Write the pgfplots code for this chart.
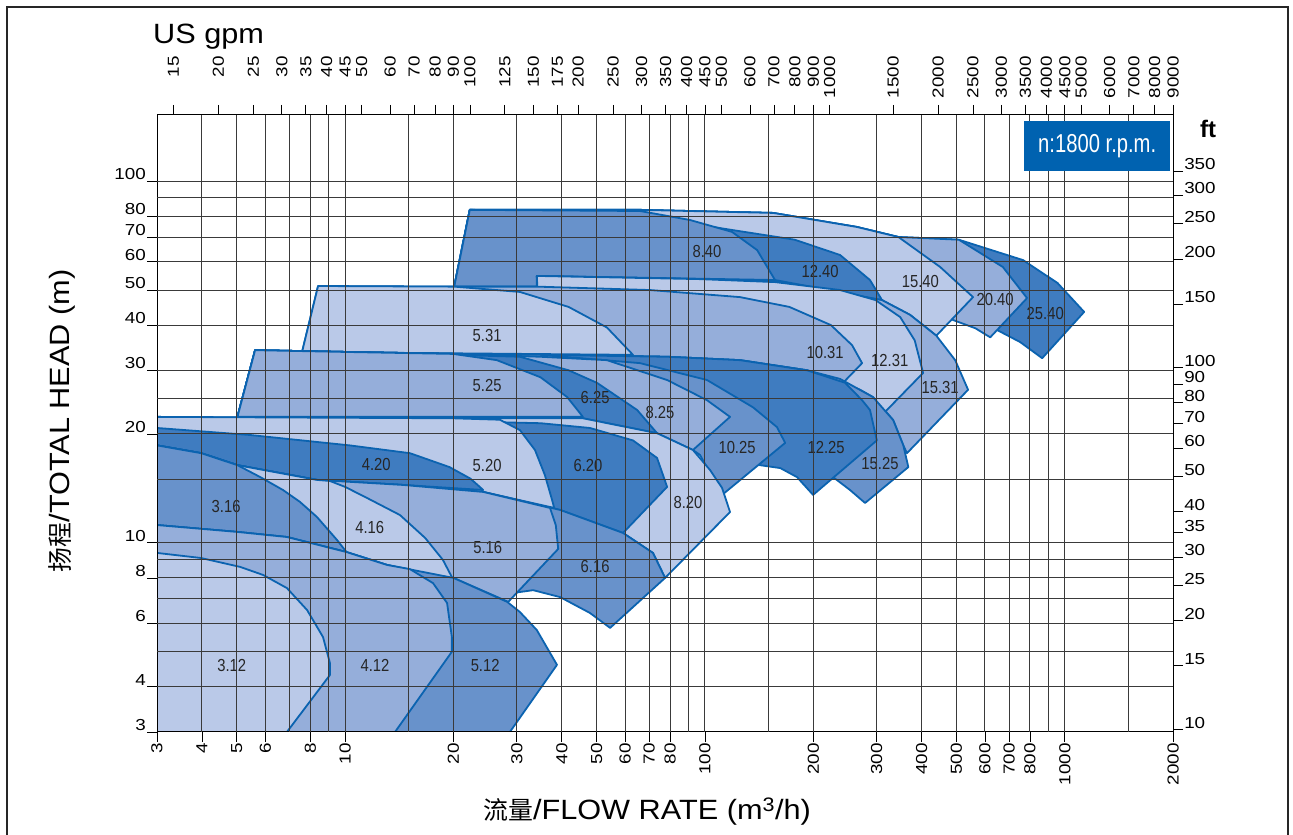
\documentclass[border=0pt]{standalone}
\usepackage{pgfplots}
\pgfplotsset{compat=1.18}
\usepackage{fontspec}
\setmainfont{Liberation Sans}
\newfontfamily\tickfont[FakeStretch=1.18]{Liberation Sans}
\newfontfamily\widefont[FakeStretch=1.1]{Liberation Sans}
\newfontfamily\condfont[FakeStretch=0.85]{Liberation Sans}
\newfontfamily\rpmfont[FakeStretch=0.78]{Liberation Sans}
\newfontfamily\cjk{Noto Sans CJK SC}
\definecolor{cL}{HTML}{BAC9E8}
\definecolor{cM}{HTML}{95AEDA}
\definecolor{cD}{HTML}{6892CB}
\definecolor{cX}{HTML}{3F7CC0}
\definecolor{edge}{HTML}{0B63B0}
\definecolor{rpmblue}{HTML}{0062B0}
\definecolor{gridc}{HTML}{3A3A3A}
\tikzset{
  pump/.style={draw=edge, line width=1.8bp, line join=round, fill=#1},
  lab/.style={font=\condfont\fontsize{17.5}{17.5}\selectfont, text=black!85, inner sep=0pt},
}
\begin{document}
\begin{tikzpicture}[x=1bp,y=1bp]
\path[use as bounding box] (0,0) rectangle (1293,835);
\begin{axis}[
  at={(157bp,103bp)}, anchor=south west,
  scale only axis, width=1016bp, height=617bp,
  xmode=log, ymode=log,
  xmin=3, xmax=2000, ymin=3, ymax=152.4,
  axis on top, no markers,
  xminorticks=false, yminorticks=false,
  axis line style={black, line width=1bp},
  tick style={black, line width=0.8bp},
  tick align=outside, major tick length=10bp,
  xtick pos=left, ytick pos=left,
  xtick={3,4,5,6,8,10,20,30,40,50,60,70,80,100,200,300,400,500,600,700,800,1000,2000},
  xticklabels={3,4,5,6,8,10,20,30,40,50,60,70,80,100,200,300,400,500,600,700,800,1000,2000},
  ytick={3,4,6,8,10,20,30,40,50,60,70,80,100},
  yticklabels={3,4,6,8,10,20,30,40,50,60,70,80,100},
  xticklabel style={rotate=90, anchor=east, font=\tickfont\fontsize{16}{16}\selectfont, inner sep=1bp},
  yticklabel style={anchor=south east, font=\tickfont\fontsize{16}{16}\selectfont, inner sep=1bp},
  extra x ticks={4,5,6,7,8,9,10,15,20,30,40,50,60,70,80,90,100,150,200,300,400,500,600,700,800,900,1000,1500},
  extra x tick labels={},
  extra x tick style={grid=major, tick style={draw=none}},
  extra y ticks={4,5,6,7,8,9,10,15,20,25,30,40,50,60,70,80,90,100},
  extra y tick labels={},
  extra y tick style={grid=major, tick style={draw=none}},
  major grid style={gridc, line width=1bp},
]
% ---- 40 family
\addplot[pump=cX] coordinates {(22.2,83.3)(66,83.3)(154.6,81.7)(264.6,74.7)(344.8,70.1)(507.6,68.9)(765.9,60.5)(954.5,52.3)(1132,43.5)(865.3,32.4)(751.8,35.9)(653.9,38.6)(546.3,41.8)(450.5,45.4)(310.5,49.1)(156.6,53.3)(34.1,54.7)(20.1,51.1)} -- cycle;
\addplot[pump=cM] coordinates {(22.2,83.3)(66,83.3)(154.6,81.7)(264.6,74.7)(344.8,70.1)(507.6,68.9)(672.8,57.9)(785.6,47.5)(620.6,37.0)(564.6,39.2)(489.7,41.3)(439.6,43.5)(310.5,49.1)(156.6,53.3)(34.1,54.7)(20.1,51.1)} -- cycle;
\addplot[pump=cL] coordinates {(22.2,83.3)(66,83.3)(154.6,81.7)(264.6,74.7)(344.8,70.1)(450.5,57.9)(556,47.8)(439.6,37.4)(371.5,42.7)(310.5,46.9)(156.6,53.3)(34.1,54.7)(20.1,51.1)} -- cycle;
\addplot[pump=cX] coordinates {(22.2,83.3)(66,82.2)(96.9,75.7)(118.9,73.3)(177.6,68.9)(237.4,62.5)(287.5,53.3)(310.5,46.9)(156.6,53.3)(34.1,54.7)(20.1,51.1)} -- cycle;
\addplot[pump=cD] coordinates {(22.2,83.3)(66,82.7)(90.9,78.1)(118.9,72.4)(139.6,64.5)(156.6,53.3)(34.1,54.7)(34.1,51.1)(20.1,51.1)} -- cycle;
% ---- 31 family
\addplot[pump=cM] coordinates {(34.1,54.7)(96.9,53.6)(156.6,52.9)(310.5,46.9)(371.5,42.7)(439.6,37.4)(495.9,32.0)(538.6,26.5)(364.3,17.7)(355.9,18.6)(333.4,21.86)(293,25.3)(242,27.7)(192.2,30.0)(125.2,32.0)(78.5,32.7)(34.9,33.1)} -- cycle;
\addplot[pump=cL] coordinates {(34.1,54.7)(96.9,53.6)(156.6,52.6)(237.4,50.0)(298,46.9)(348.8,42.1)(382.8,36.3)(403.9,29.5)(316.4,23.0)(293,25.3)(269.8,26.5)(242,27.7)(192.2,30.0)(125.2,32.0)(78.5,32.7)(34.9,33.1)} -- cycle;
\addplot[pump=cM] coordinates {(8.41,51.3)(20.1,51.1)(34.1,51.1)(70.4,50.0)(125.2,47.8)(171.7,44.9)(223.9,40.0)(256.4,35.2)(273.3,31.4)(242,27.7)(192.2,30.0)(125.2,32.0)(78.5,32.7)(34.9,33.1)(19.96,33.3)(7.59,33.7)} -- cycle;
\addplot[pump=cL] coordinates {(8.41,51.3)(20.1,51.1)(30.6,49.4)(41.8,44.9)(53.4,39.4)(63.1,33.1)(7.59,33.7)} -- cycle;
% ---- 25 family
\addplot[pump=cD] coordinates {(5.62,34.1)(10.3,33.7)(19.96,33.3)(34.9,33.1)(78.5,32.7)(125.2,32.0)(192.2,30.0)(237.4,28.4)(293,25.3)(333.4,21.86)(355.9,18.6)(367.5,16.2)(278.6,12.89)(253,14.0)(230,15.05)(199.8,16.1)(167.1,17.17)(125.2,18.3)(92.6,19.2)(73.6,20.1)(45.8,22.1)(5.02,22.3)} -- cycle;
\addplot[pump=cX] coordinates {(5.62,34.1)(10.3,33.7)(19.96,33.3)(34.9,33.1)(78.5,32.7)(125.2,32.0)(192.2,30.0)(245.2,27.7)(273.3,24.8)(287.5,23.3)(300.4,19.2)(199.8,13.57)(180.2,15.2)(161.9,16.1)(142.2,16.4)(125.2,16.96)(92.6,18.06)(73.6,20.1)(45.8,22.1)(5.02,22.3)} -- cycle;
\addplot[pump=cD] coordinates {(5.62,34.1)(10.3,33.7)(19.96,33.3)(34.9,33.1)(66,31.4)(101.3,28.2)(136,23.7)(158.5,20.9)(167.1,18.9)(111.6,13.57)(96.9,17.5)(92.6,18.06)(73.6,20.1)(45.8,22.1)(5.02,22.3)} -- cycle;
\addplot[pump=cM] coordinates {(5.62,34.1)(10.3,33.7)(19.96,33.3)(34.9,32.7)(53.4,32.0)(78.5,28.2)(101.3,24.8)(117.4,22.3)(92.6,18.06)(73.6,20.1)(45.8,22.1)(5.02,22.3)} -- cycle;
\addplot[pump=cX] coordinates {(5.62,34.1)(10.3,33.7)(19.96,33.1)(30.6,32.7)(41.8,30.0)(50.1,27.7)(64.8,23.3)(73.6,20.1)(45.8,22.1)(5.02,22.3)} -- cycle;
\addplot[pump=cM] coordinates {(5.62,34.1)(10.3,33.7)(19.96,33.3)(26.4,32.0)(34.9,28.7)(41.4,25.3)(45.8,22.3)(5.02,22.3)} -- cycle;
% ---- 20 family
\addplot[pump=cL] coordinates {(3,22.3)(20,22.1)(45.8,22.1)(73.6,20.1)(92.6,18.06)(103.3,15.9)(111.6,14.18)(117.4,12.17)(77.5,8.0)(71.7,9.38)(59.2,10.65)(39.6,12.33)(24.2,13.83)(14.48,14.46)(8.35,14.93)(5.02,16.4)(3.98,17.7)(3,18.6)} -- cycle;
\addplot[pump=cX] coordinates {(3,21.86)(20,21.7)(34.9,21.42)(47.9,20.78)(63.1,19.2)(73.6,17.17)(78.5,14.28)(59.2,10.65)(39.6,12.33)(24.2,13.83)(14.48,14.46)(8.35,14.93)(5.02,16.4)(3.98,17.7)(3,18.6)} -- cycle;
\addplot[pump=cL] coordinates {(3,22.3)(20,22.1)(26.9,21.9)(30.6,20.5)(33.7,18.06)(35.9,15.4)(37.6,13.14)(38.1,12.49)(24.2,13.83)(14.48,14.46)(8.35,14.93)(5.02,16.4)(3.98,17.7)(3,18.6)} -- cycle;
\addplot[pump=cX] coordinates {(3,20.78)(5.45,19.87)(10.3,18.6)(15.14,17.7)(19.5,16.2)(22.3,15.05)(24.2,14.0)(14.48,14.46)(8.35,14.93)(5.02,16.4)(3.98,17.7)(3,18.6)} -- cycle;
% ---- 16 family
\addplot[pump=cD] coordinates {(3,18.6)(3.98,17.7)(5.02,16.4)(8.35,14.93)(14.48,14.46)(24.2,13.83)(39.6,12.33)(59.2,10.65)(71.7,9.38)(77.5,8.0)(54.5,5.82)(47.9,6.4)(39.6,7.08)(33.3,7.4)(29.3,7.27)(28.2,6.87)(20,8.0)(10.09,9.43)(5.02,10.72)(3,11.2)} -- cycle;
\addplot[pump=cM] coordinates {(3,18.6)(3.98,17.7)(5.02,16.4)(8.35,14.93)(14.48,14.46)(24.2,13.83)(37.1,12.49)(38.5,11.2)(39.1,9.62)(28.4,6.87)(20,8.0)(10.09,9.43)(5.02,10.72)(3,11.2)} -- cycle;
\addplot[pump=cL] coordinates {(3,18.6)(3.98,17.7)(5.02,16.4)(8.35,14.93)(9.07,14.83)(10,14.28)(11.5,13.31)(14.2,11.94)(16.7,10.31)(18.7,8.97)(20,7.89)(13.07,8.69)(10.09,9.43)(5.02,10.72)(3,11.2)} -- cycle;
\addplot[pump=cD] coordinates {(3,18.6)(3.98,17.7)(5.02,16.4)(5.81,15.2)(6.72,14.0)(7.49,12.98)(8.35,11.79)(9.49,10.19)(10.09,9.43)(6.89,10.38)(5.02,10.72)(3,11.2)} -- cycle;
% ---- 12 family
\addplot[pump=cD] coordinates {(3,11.2)(5.02,10.72)(6.89,10.38)(10.09,9.43)(13.07,8.69)(20,8.0)(28.2,6.87)(30.6,6.44)(34.1,5.74)(38.8,4.6)(28.7,3)(3,3)} -- cycle;
\addplot[pump=cM] coordinates {(3,11.2)(5.02,10.72)(6.89,10.38)(10.09,9.43)(13.07,8.69)(15.14,8.46)(17.55,7.74)(19.2,6.82)(19.8,5.49)(19.8,5.0)(13.76,3)(3,3)} -- cycle;
\addplot[pump=cL] coordinates {(3,9.38)(3.98,9.08)(5.11,8.58)(5.92,8.15)(6.89,7.5)(7.84,6.52)(8.68,5.49)(9.07,4.66)(9.07,4.31)(6.89,3)(3,3)} -- cycle;
% ---- labels
\node[lab] at (axis cs:4.84,4.57) {3.12};
\node[lab] at (axis cs:12.1,4.57) {4.12};
\node[lab] at (axis cs:24.5,4.57) {5.12};
\node[lab] at (axis cs:4.67,12.6) {3.16};
\node[lab] at (axis cs:11.7,11.0) {4.16};
\node[lab] at (axis cs:24.9,9.68) {5.16};
\node[lab] at (axis cs:49.5,8.58) {6.16};
\node[lab] at (axis cs:12.2,16.5) {4.20};
\node[lab] at (axis cs:24.8,16.4) {5.20};
\node[lab] at (axis cs:47.3,16.4) {6.20};
\node[lab] at (axis cs:89.7,12.89) {8.20};
\node[lab] at (axis cs:24.8,27.3) {5.25};
\node[lab] at (axis cs:49.5,25.2) {6.25};
\node[lab] at (axis cs:75.0,23.0) {8.25};
\node[lab] at (axis cs:122.8,18.4) {10.25};
\node[lab] at (axis cs:217.1,18.4) {12.25};
\node[lab] at (axis cs:306.6,16.6) {15.25};
\node[lab] at (axis cs:24.8,37.4) {5.31};
\node[lab] at (axis cs:215.7,33.7) {10.31};
\node[lab] at (axis cs:326.2,32.0) {12.31};
\node[lab] at (axis cs:450.5,26.96) {15.31};
\node[lab] at (axis cs:101.3,64.1) {8.40};
\node[lab] at (axis cs:208.9,56.1) {12.40};
\node[lab] at (axis cs:397,52.9) {15.40};
\node[lab] at (axis cs:640.4,47.2) {20.40};
\node[lab] at (axis cs:882.6,43.2) {25.40};
\end{axis}
% right axis: feet
\begin{axis}[
  at={(157bp,103bp)}, anchor=south west,
  scale only axis, width=1016bp, height=617bp,
  xmode=log, ymode=log, xmin=3, xmax=2000, ymin=9.84252, ymax=500,
  axis x line=none, axis y line*=right,
  axis line style={black, line width=1bp},
  tick style={black, line width=0.8bp},
  yminorticks=false, tick align=outside, major tick length=10bp,
  ytick={10,15,20,25,30,35,40,50,60,70,80,90,100,150,200,250,300,350},
  yticklabels={10,15,20,25,30,35,40,50,60,70,80,90,100,150,200,250,300,350},
  yticklabel style={anchor=south west, font=\tickfont\fontsize{16}{16}\selectfont, inner sep=1bp},
]
\end{axis}
% top axis: US gpm
\begin{axis}[
  at={(157bp,103bp)}, anchor=south west,
  scale only axis, width=1016bp, height=617bp,
  xmode=log, xmin=13.5, xmax=9000, ymin=0, ymax=1,
  axis y line=none, axis x line*=top,
  axis line style={black, line width=1bp},
  tick style={black, line width=0.8bp},
  xminorticks=false, tick align=outside, major tick length=10bp,
  xtick={15,20,25,30,35,40,45,50,60,70,80,90,100,125,150,175,200,250,300,350,400,450,500,600,700,800,900,1000,1500,2000,2500,3000,3500,4000,4500,5000,6000,7000,8000,9000},
  xticklabels={15,20,25,30,35,40,45,50,60,70,80,90,100,125,150,175,200,250,300,350,400,450,500,600,700,800,900,1000,1500,2000,2500,3000,3500,4000,4500,5000,6000,7000,8000,9000},
  xticklabel shift=50bp,
  xticklabel style={rotate=90, anchor=east, font=\tickfont\fontsize{16}{16}\selectfont, inner sep=1bp},
]
\end{axis}
% texts and frame
\node[anchor=base west, inner sep=0, font=\widefont\fontsize{28}{28}\selectfont] at (153,791) {US gpm};
\node[anchor=base west, inner sep=0, font=\bfseries\fontsize{24}{24}\selectfont] at (1200,697) {ft};
\node[anchor=north west, fill=rpmblue, text=white, minimum width=146bp, minimum height=50bp, inner sep=0,
      font=\rpmfont\fontsize{26}{26}\selectfont] at (1024,714) {n:1800 r.p.m.};
\node[rotate=90, inner sep=0] at (62,414) {{\cjk\fontsize{25}{25}\selectfont 扬程}{\widefont\fontsize{28}{28}\selectfont /TOTAL HEAD (m)}};
\node[anchor=base, inner sep=0] at (647,15) {{\cjk\fontsize{25}{25}\selectfont 流量}{\widefont\fontsize{28}{28}\selectfont /FLOW RATE (m\textsuperscript{3}/h)}};
\draw[black!85, line width=2.5bp] (7,-10) -- (7,828) -- (1288,828) -- (1288,-10);
\end{tikzpicture}
\end{document}
